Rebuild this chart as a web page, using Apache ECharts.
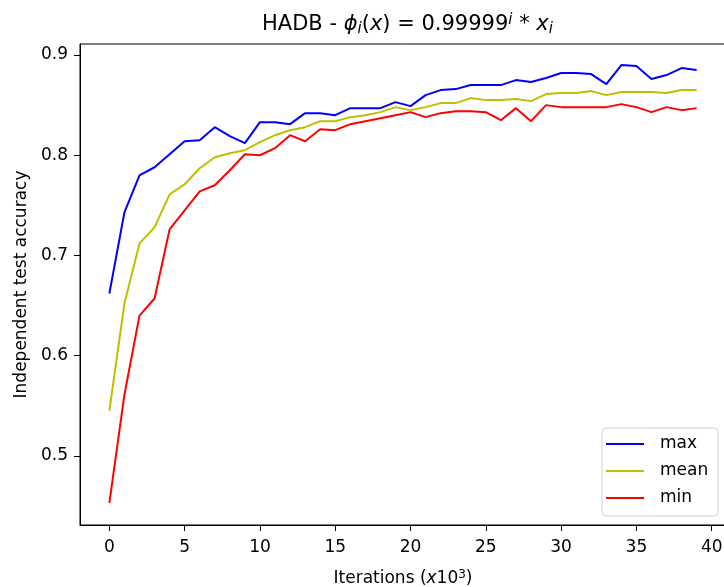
<!DOCTYPE html>
<html>
<head>
<meta charset="utf-8">
<script src="https://cdn.jsdelivr.net/npm/echarts@6/dist/echarts.min.js"></script>
<style>
  html, body { margin: 0; padding: 0; background: #fff; }
  #main { width: 724px; height: 587px; }
</style>
</head>
<body>
<div id="main"></div>
<script>
const iterations = Array.from({ length: 40 }, (_, i) => i);
const maxAcc = [0.662, 0.743, 0.780, 0.788, 0.801, 0.814, 0.815, 0.828, 0.819, 0.812,
  0.833, 0.833, 0.831, 0.842, 0.842, 0.840, 0.847, 0.847, 0.847, 0.853,
  0.849, 0.860, 0.865, 0.866, 0.870, 0.870, 0.870, 0.875, 0.873, 0.877,
  0.882, 0.882, 0.881, 0.871, 0.890, 0.889, 0.876, 0.880, 0.887, 0.885];
const meanAcc = [0.545, 0.652, 0.712, 0.728, 0.761, 0.771, 0.787, 0.798, 0.802, 0.805,
  0.813, 0.820, 0.825, 0.828, 0.834, 0.834, 0.838, 0.840, 0.843, 0.848,
  0.845, 0.848, 0.852, 0.852, 0.857, 0.855, 0.855, 0.856, 0.854, 0.861,
  0.862, 0.862, 0.864, 0.860, 0.863, 0.863, 0.863, 0.862, 0.865, 0.865];
const minAcc = [0.453, 0.561, 0.640, 0.657, 0.726, 0.745, 0.764, 0.770, 0.785, 0.801,
  0.800, 0.807, 0.820, 0.814, 0.826, 0.825, 0.831, 0.834, 0.837, 0.840,
  0.843, 0.838, 0.842, 0.844, 0.844, 0.843, 0.835, 0.847, 0.834, 0.850,
  0.848, 0.848, 0.848, 0.848, 0.851, 0.848, 0.843, 0.848, 0.845, 0.847];
const xTicks = [0, 5, 10, 15, 20, 25, 30, 35, 40];
const yTicks = [0.5, 0.6, 0.7, 0.8, 0.9];

const font = 'DejaVu Sans';
const colors = ['#0000ff', '#bfbf00', '#ff0000'];

const pairs = (ys) => iterations.map((x, i) => [x, ys[i]]);
const lineSeries = (name, ys) => ({
  name: name,
  type: 'line',
  data: pairs(ys),
  showSymbol: false,
  symbol: 'none',
  lineStyle: { width: 2 },
  animation: false
});

const chart = echarts.init(document.getElementById('main'));
chart.setOption({
  color: colors,
  animation: false,
  textStyle: { fontFamily: font },
  title: {
    left: 257,
    top: 8,
    text: 'HADB - {i|ϕ}{sub|i}{n|(}{i|x}{n|) = 0.99999}{sup|i}{n| * }{i|x}{sub|i}',
    textStyle: {
      fontFamily: font,
      fontSize: 21,
      fontWeight: 'normal',
      color: '#000',
      rich: {
        n: { fontFamily: font, fontSize: 21, color: '#000' },
        i: { fontFamily: font, fontSize: 21, fontStyle: 'italic', color: '#000' },
        sub: { fontFamily: font, fontSize: 15, fontStyle: 'italic', color: '#000', verticalAlign: 'bottom', padding: [9, 0, 0, 0] },
        sup: { fontFamily: font, fontSize: 15, fontStyle: 'italic', color: '#000', verticalAlign: 'top', padding: [0, 0, 8, 0] }
      }
    }
  },
  grid: {
    left: 80,
    top: 44,
    width: 646,
    bottom: 62,
    outerBoundsMode: 'none',
    containLabel: false,
    show: true,
    borderColor: '#000',
    borderWidth: 1
  },
  legend: {
    orient: 'vertical',
    left: 602,
    top: 428,
    padding: [7, 10, 9, 4],
    itemGap: 9,
    itemWidth: 38,
    itemHeight: 2,
    icon: 'rect',
    borderColor: '#d0d0d0',
    borderWidth: 1,
    borderRadius: 4,
    backgroundColor: '#fff',
    textStyle: { fontFamily: font, fontSize: 17, color: '#000', lineHeight: 18, padding: [0, 0, 0, 11] },
    data: ['max', 'mean', 'min']
  },
  xAxis: {
    type: 'value',
    min: -1.95,
    max: 40.95,
    name: 'Iterations ({i|x}{n|10}{sup|3}{n|)}',
    nameLocation: 'middle',
    nameGap: 44,
    nameTextStyle: {
      fontFamily: font,
      fontSize: 17,
      color: '#000',
      rich: {
        n: { fontFamily: font, fontSize: 17, color: '#000' },
        i: { fontFamily: font, fontSize: 17, fontStyle: 'italic', color: '#000' },
        sup: { fontFamily: font, fontSize: 12, color: '#000', verticalAlign: 'top', padding: [0, 0, 7, 0] }
      }
    },
    splitLine: { show: false },
    axisLine: { show: true, onZero: false, lineStyle: { color: '#000', width: 1 } },
    axisTick: { show: true, length: 6, customValues: xTicks, lineStyle: { color: '#000' } },
    axisLabel: { customValues: xTicks, fontFamily: font, fontSize: 17, color: '#000', margin: 14 }
  },
  yAxis: {
    type: 'value',
    min: 0.431,
    max: 0.911,
    name: 'Independent test accuracy',
    nameLocation: 'middle',
    nameGap: 49,
    nameTextStyle: { fontFamily: font, fontSize: 17, color: '#000' },
    splitLine: { show: false },
    axisLine: { show: true, onZero: false, lineStyle: { color: '#000', width: 1 } },
    axisTick: { show: true, length: 6, customValues: yTicks, lineStyle: { color: '#000' } },
    axisLabel: {
      customValues: yTicks,
      fontFamily: font,
      fontSize: 17,
      color: '#000',
      margin: 12,
      formatter: (v) => v.toFixed(1)
    }
  },
  series: [
    lineSeries('max', maxAcc),
    lineSeries('mean', meanAcc),
    lineSeries('min', minAcc)
  ]
});
</script>
</body>
</html>
